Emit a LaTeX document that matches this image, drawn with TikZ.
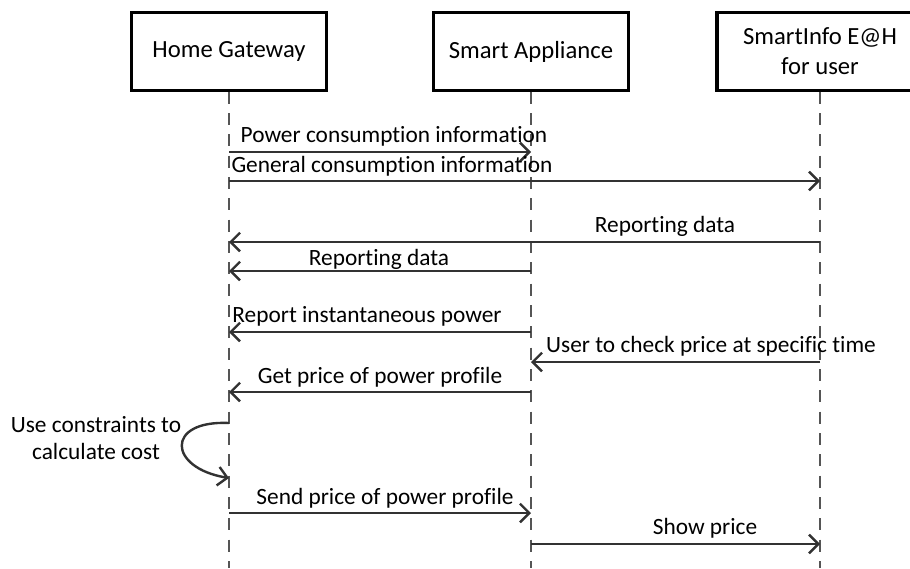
\documentclass[tikz,border=0pt]{standalone}
\usepackage{fontspec}
\setmainfont{Carlito}[Ligatures={NoCommon,NoContextual,NoRare},Contextuals=NoAlternate]
\usetikzlibrary{arrows.meta}
\definecolor{ink}{RGB}{50,50,50}
\definecolor{soft}{RGB}{85,85,85}

\begin{document}
\begin{tikzpicture}[x=0.75pt,y=-0.75pt,
    actor/.style={draw=black,line width=2.3pt,fill=white,inner sep=0pt,
      minimum width=146pt,minimum height=58pt,align=center,
      font=\fontsize{18.5}{22.5}\selectfont},
    life/.style={soft,line width=1.2pt,dash pattern=on 9pt off 7pt},
    msg/.style={ink,line width=1.8pt,-{Straight Barb[length=7pt,width=14pt]}},
    lbl/.style={text=black,inner sep=0pt,anchor=base,
      font=\fontsize{17.5}{21}\selectfont}]
  \useasboundingbox (0,0) rectangle (910,568);

  % lifelines and their heads
  \node[actor] (hg) at (229,51.5) {Home Gateway};
  \node[actor] (sa) at (531,51.5) {Smart Appliance};
  \node[actor,minimum width=154.5pt] (si) at (820,51.5) {SmartInfo E@H\\for user};
  \foreach \a in {hg,sa,si}
    \draw[life] (\a.south) -- (\a.south |- 0,568);

  % points where the messages meet the lifelines
  \foreach \n/\y in {a/152,b/181,c/242,d/271,e/332,f/362,g/392,h/423,i/478,j/513,k/544} {
    \coordinate (hg-\n) at (hg.south |- 0,\y);
    \coordinate (sa-\n) at (sa.south |- 0,\y);
    \coordinate (si-\n) at (si.south |- 0,\y);
  }

  \draw[msg] (hg-a) -- (sa-a);
  \node[lbl] (la) at (394,142) {Power consumption information};
  \draw[msg] (hg-b) -- (si-b);
  \node[lbl] (lb) at (392,172) {General consumption information};
  \draw[msg] (si-c) -- (hg-c);
  \node[lbl] (lc) at (665,232) {Reporting data};
  \draw[msg] (sa-d) -- (hg-d);
  \node[lbl] (ld) at (379,265) {Reporting data};
  \draw[msg] (sa-e) -- (hg-e);
  \node[lbl] (le) at (367,322) {Report instantaneous power};
  \draw[msg] (si-f) -- (sa-f);
  \node[lbl] (lf) at (711,352) {User to check price at specific time};
  \draw[msg] (sa-g) -- (hg-g);
  \node[lbl] (lg) at (380,383) {Get price of power profile};

  % self call on the gateway
  \draw[msg] (hg-h) .. controls (165,420) and (168,468) .. (hg-i);
  \node[lbl,anchor=center,align=center,font=\fontsize{17.5}{20.5}\selectfont] (lh) at (96,438)
    {Use constraints to\\calculate cost};

  \draw[msg] (hg-j) -- (sa-j);
  \node[lbl] (lj) at (385,504) {Send price of power profile};
  \draw[msg] (sa-k) -- (si-k);
  \node[lbl] (lk) at (705,534) {Show price};
\end{tikzpicture}
\end{document}
